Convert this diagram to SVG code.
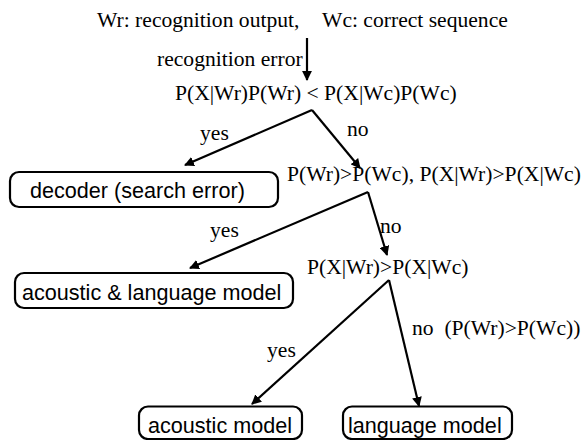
<svg xmlns="http://www.w3.org/2000/svg" width="585" height="440" viewBox="0 0 585 440">
<style>
.s{font-family:"Liberation Serif","Times New Roman",serif;font-size:21.6px;fill:#000}
.a{font-family:"Liberation Sans",Arial,sans-serif;font-size:21.6px;fill:#000}
.box{fill:#fff;stroke:#000;stroke-width:2.2}
.ln{fill:none;stroke:#000;stroke-width:2.2;marker-end:url(#ah)}
</style>
<defs>
<marker id="ah" viewBox="0 0 10 10" refX="9" refY="5" markerWidth="4.5" markerHeight="4.5" orient="auto" markerUnits="strokeWidth">
<path d="M0,0 L10,5 L0,10 z" fill="#000"/>
</marker>
</defs>
<rect width="585" height="440" fill="#fff"/>
<g id="header">
<text class="s" x="97" y="27">Wr: recognition output,</text>
<text class="s" x="322" y="27">Wc: correct sequence</text>
<text class="s" x="157" y="66">recognition error</text>
</g>
<g id="cond1"><text class="s" x="175" y="100">P(X|Wr)P(Wr) &lt; P(X|Wc)P(Wc)</text></g>
<g id="decoder"><rect class="box" x="10" y="172" width="268" height="35" rx="9"/><text class="a" x="30" y="198">decoder (search error)</text></g>
<g id="cond2"><text class="s" x="287" y="181">P(Wr)&gt;P(Wc), P(X|Wr)&gt;P(X|Wc)</text></g>
<g id="aclm"><rect class="box" x="15" y="273" width="278" height="35" rx="9"/><text class="a" x="22" y="300">acoustic &amp; language model</text></g>
<g id="cond3"><text class="s" x="307" y="274">P(X|Wr)&gt;P(X|Wc)</text></g>
<g id="am"><rect class="box" x="139" y="406.5" width="163" height="32.5" rx="9"/><text class="a" x="148" y="433">acoustic model</text></g>
<g id="lm"><rect class="box" x="343" y="406.5" width="169" height="32.5" rx="9"/><text class="a" x="348" y="433">language model</text></g>
<g id="connectors">
<line class="ln" x1="307" y1="38" x2="307" y2="80"/>
<line class="ln" x1="312" y1="110" x2="185" y2="165"/>
<line class="ln" x1="312" y1="110" x2="360" y2="168"/>
<line class="ln" x1="368" y1="192" x2="190" y2="268"/>
<line class="ln" x1="368" y1="192" x2="387" y2="255"/>
<line class="ln" x1="389" y1="280" x2="252" y2="404"/>
<line class="ln" x1="389" y1="280" x2="419" y2="406"/>
<text class="s" x="200" y="140">yes</text>
<text class="s" x="347" y="136">no</text>
<text class="s" x="210" y="237">yes</text>
<text class="s" x="380" y="233">no</text>
<text class="s" x="267" y="357">yes</text>
<text class="s" x="412" y="335" xml:space="preserve">no  (P(Wr)&gt;P(Wc))</text>
</g>
</svg>
